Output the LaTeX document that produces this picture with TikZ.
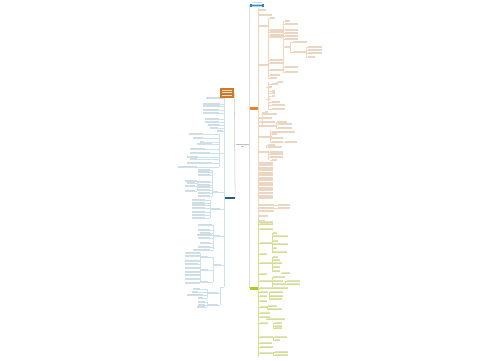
\documentclass[tikz,border=0pt]{standalone}
\usetikzlibrary{positioning}
\definecolor{mapblue}{HTML}{2E86C1}
\definecolor{maporange}{HTML}{E8842C}
\definecolor{mapteal}{HTML}{1D5F7C}
\definecolor{mapgreen}{HTML}{B5C81E}
\tikzset{
	topic/.style={inner sep=0pt, minimum height=.06cm},
	trunk/.style={draw=black!20, line width=.3pt},
	lineo/.style={draw=maporange!35, line width=.25pt},
	linet/.style={draw=mapblue!25, line width=.25pt},
	lineg/.style={draw=mapgreen!55, line width=.25pt},
	leafo/.style={fill=maporange!30!black!18},
	leaft/.style={fill=mapblue!35!black!18},
	leafg/.style={fill=mapgreen!45!black!18},
}

\begin{document}
\begin{tikzpicture}[x=0.02cm, y=-0.02cm]
		\fill[white] (0,0) rectangle (500,360);
		\useasboundingbox (0,0) rectangle (500,360);
		% main topics
		\node[topic, minimum width=.26cm, minimum height=.1cm] (root) at (242,145) {};
		\fill[black!25] (236,143.6) rectangle (249,144.5);
		\fill[black!25] (240.5,146.4) rectangle (244,147.2);
		\node[topic, fill=mapblue, minimum width=.28cm] (blue) at (257,5) {};
		\node[topic, fill=maporange, minimum width=.16cm] (orange) at (254,108.5) {};
		\node[topic, fill=mapgreen, minimum width=.16cm] (green) at (254,288) {};
		\node[topic, fill=maporange!90!black, minimum width=.28cm, minimum height=.2cm] (obox) at (227,93) {};
		\node[topic, fill=mapteal, minimum width=.21cm, minimum height=.05cm] (teal) at (229.5,198) {};
		\foreach \y in {90,92.5,95}
			\fill[white!75!maporange] (222,\y-.5) rectangle (232,\y+.5);
		\foreach \y in {2,4,6}
			\fill[white!70!mapblue] (252,\y-.3) rectangle (262,\y+.3);
		% trunks
		\draw[trunk] (root.east) -- (root.east -| blue.west);
		\draw[trunk] (blue.west) -- (green.west);
		\draw[trunk] (root.west) -- (root.west -| obox.east);
		\draw[trunk] (obox.east) -- (teal.east);
		% right orange branch
		\draw[lineo] (orange.east) -- (258,108.5);
		\draw[lineo] (258,8) -- (258,222);
		\foreach \x/\a/\b in {268/18/78,283/21/72,290/42/52,306/47/57,268/82/110,262/112/127,276/122/128,270/130/142,266/145/148,268/152/160}
			\draw[lineo] (\x,\a) -- (\x,\b);
		\foreach \x/\y/\w/\s in {
			259/10/7/258, 259/15/13/258, 270/18/5/268, 285/21/5/283, 285/24/13/283, 259/26/9/258,
			270/30/13/268, 270/32.5/13/268, 270/35/13/268, 270/37.5/13/268,
			285/30/13/283, 285/33/13/283, 285/36/13/283, 285/39/13/283,
			293/42/14/290, 285/47/5/283, 293/52/14/290,
			308/47/14/306, 308/50/14/306, 308/53/14/306, 308/57/7/306,
			259/65/9/258, 270/60/13/268, 270/63/13/268, 270/70/13/268,
			285/67/13/283, 285/72/13/283, 270/75/10/268, 270/78/7/268,
			278/82/5/276, 272/84/6/268, 268/87/4/266, 272/91/3/268, 272/93/3/268,
			272/96/3/268, 268/99/2/266, 272/102/8/268, 272/105/13/268, 272/109/13/268,
			265/112/3/262, 263/114/14/262, 259/118/9/258, 268/118/4/268,
			260/122/15/258, 277/122/10/276, 259/126/4/258, 263/126/14/262,
			278/124/14/276, 278/128/14/276, 272/132/23/270, 272/134/5/270,
			272/138/11/270, 259/137/5/258, 263/137/9/262, 272/142/11/270,
			285/142/12/284, 268/145/7/266, 268/147/14/266, 259/152/10/258,
			270/152/13/268, 270/154/13/268, 270/157/13/268, 272/160/5/270,
			259/163/14/258, 259/165.5/14/258, 259/168/14/258, 259/170.5/14/258,
			259/173/14/258, 259/175.5/14/258, 259/178/14/258, 259/180.5/14/258,
			259/183/14/258, 259/185.5/14/258, 259/188/14/258, 259/190.5/14/258, 259/193/14/258,
			259/196/14/258, 259/198.5/14/258,
			259/205/15/258, 259/208/15/258, 259/211/15/258, 278/205/12/274, 278/208/12/274,
			259/216/9/258, 259/221/6/258}
		{
			\fill[leafo] (\x,\y-1.5) rectangle (\x+\w,\y-.6);
			\draw[lineo] (\s,\y) -- (\x+\w,\y);
		}
		% left teal branch
		\draw[linet] (teal.west) -- (224,198);
		\draw[linet] (224,98) -- (224,287);
		\foreach \x/\a/\b in {219/134/167,212/170/196,197/181/191,210/200/218,213/225/250,200/253/283,213/257/282,207/289/298,207/302/307,220/287/305}
			\draw[linet] (\x,\a) -- (\x,\b);
		\foreach \x/\y/\w/\s in {
			206/98/14/224, 203/104/17/224, 203/106.5/17/224, 203/110/16/224, 203/113/16/224,
			205/119/14/224, 205/122/14/224, 208/125/12/224, 210/128/8/224, 217/131/6/224,
			189/134/14/219, 193/138/10/219, 200/142/4/219, 197/144.5/15/219, 190/149/15/219,
			190/153/20/224, 187/157/11/219, 190/159.5/7/219, 187/163/25/219, 178/167/19/219,
			198/170/12/212, 198/172.5/12/212, 198/175/12/212, 185/181/12/197, 198/182/12/212,
			187/183.5/8/197, 198/185/12/212, 198/187.5/12/212, 185/186/10/197, 198/190/12/212,
			198/193/12/212, 185/191/10/197, 198/196/12/212, 212/192/6/224,
			192/200/13/210, 192/203/13/210, 192/205.5/13/210, 192/208/13/210, 211/209/9/224,
			192/212/13/210, 192/215/13/210, 192/218/13/210,
			198/225/14/213, 198/230/12/213, 200/233/10/213, 197/235/15/213, 214/236/6/224,
			198/238/12/213, 200/243/10/213, 198/247/12/213, 193/250/17/213,
			185/253/15/200, 185/256/15/200, 185/261/15/200, 185/264/13/200, 185/268/15/200,
			185/272/15/200, 185/275/15/200, 185/279/15/200, 185/283/15/200,
			201/257/7/213, 201/270/7/213, 201/282/7/213, 214/265/7/224,
			193/289/7/207, 192/292/6/207, 187/295/16/207, 198/298/5/207, 198/302/7/207,
			198/305/7/207, 197/307/8/207, 208/293/10/220, 208/305/10/220}
		{
			\fill[leaft] (\x,\y-1.5) rectangle (\x+\w,\y-.6);
			\draw[linet] (\x,\y) -- (\s,\y);
		}
		\draw[linet] (220,287) -- (224,287);
		% bottom green branch
		\draw[lineg] (green.east) -- (258,288);
		\draw[lineg] (258,220) -- (258,357);
		\foreach \x/\a/\b in {272/233/252,272/257/271,272/277/288,285/281/284,269/292/299,267/306/309,273/323/328,273/337/340,273/352/355}
			\draw[lineg] (\x,\a) -- (\x,\b);
		\foreach \x/\y/\w/\s in {
			260/222/13/258, 260/224.5/13/258, 260/229/13/258, 273/233/4/272, 273/236/15/272,
			260/243/13/258, 273/241/5/272, 273/244/15/272, 273/248/4/272, 273/252/14/272,
			260/254/7/258, 260/263/13/258, 273/257/5/272, 273/260/7/272, 273/263/9/272,
			273/267/7/272, 273/271/7/272, 282/273/8/281, 260/274/7/258, 260/281/13/258,
			273/277/12/272, 273/281/10/272, 287/281/13/285, 273/284/12/272, 287/284/13/285,
			260/288/13/258, 273/288/15/272, 260/292/8/258, 270/292/13/269, 260/296/7/258,
			270/296/13/269, 260/301/7/258, 270/299/12/269, 260/307/7/258, 268/306/9/267,
			268/309/14/267, 260/313/10/258, 260/317/10/258, 267/319/18/266, 260/323/8/258,
			275/323/7/273, 275/326/7/273, 275/328.5/7/273, 260/337/13/258, 275/337/12/273,
			275/340/5/273, 260/343/12/258, 260/347/13/258, 260/353/13/258, 275/352/13/273,
			275/355/13/273}
		{
			\fill[leafg] (\x,\y-1.5) rectangle (\x+\w,\y-.6);
			\draw[lineg] (\s,\y) -- (\x+\w,\y);
		}
\end{tikzpicture}
\end{document}
